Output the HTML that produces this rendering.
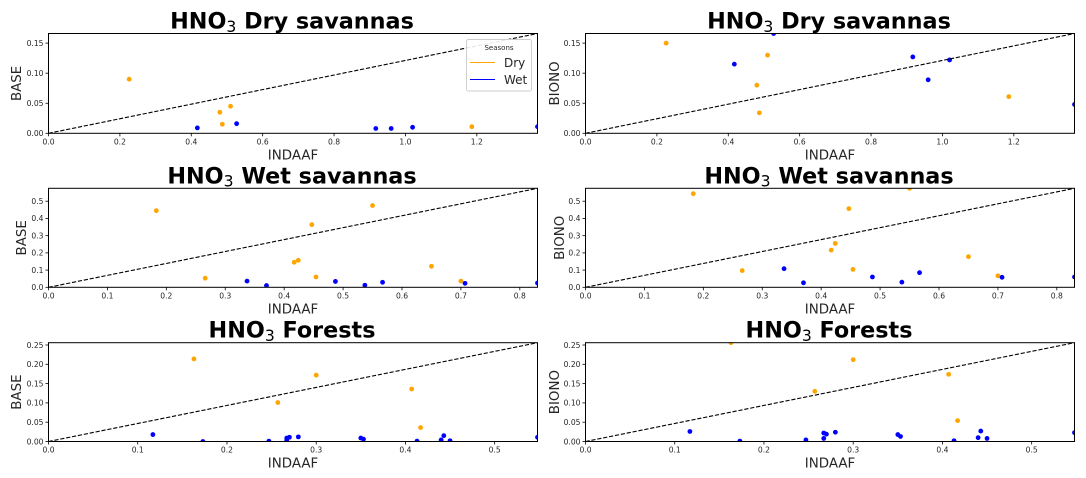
<!DOCTYPE html>
<html>
<head>
<meta charset="utf-8">
<style>
html,body{margin:0;padding:0;background:#fff;}
svg{display:block;font-family:"DejaVu Sans","Liberation Sans",sans-serif;}
</style>
</head>
<body>
<svg id="chart" xmlns="http://www.w3.org/2000/svg" width="1086" height="478" viewBox="0 0 1086 478"></svg>
<script>
// Dry savannas
const dsDryX = [0.226, 0.48, 0.487, 0.51, 1.186];
const dsWetX = [0.417, 0.527, 0.917, 0.96, 1.02, 1.37];
const dsDryBase = [0.09, 0.035, 0.015, 0.045, 0.011];
const dsWetBase = [0.009, 0.016, 0.008, 0.008, 0.01, 0.011];
const dsDryBiono = [0.15, 0.08, 0.034, 0.13, 0.061];
const dsWetBiono = [0.115, 0.166, 0.127, 0.089, 0.122, 0.048];
const dsXTicks = [0.0, 0.2, 0.4, 0.6, 0.8, 1.0, 1.2];
const dsYTicks = [0.00, 0.05, 0.10, 0.15];
// Wet savannas
const wsDryX = [0.183, 0.266, 0.417, 0.424, 0.447, 0.454, 0.55, 0.65, 0.70];
const wsWetX = [0.337, 0.37, 0.487, 0.537, 0.567, 0.707, 0.83];
const wsDryBase = [0.445, 0.053, 0.145, 0.157, 0.364, 0.06, 0.475, 0.122, 0.036];
const wsWetBase = [0.036, 0.01, 0.034, 0.012, 0.029, 0.023, 0.025];
const wsDryBiono = [0.544, 0.097, 0.216, 0.255, 0.457, 0.104, 0.575, 0.178, 0.067];
const wsWetBiono = [0.108, 0.026, 0.06, 0.03, 0.085, 0.058, 0.06];
const wsXTicks = [0.0, 0.1, 0.2, 0.3, 0.4, 0.5, 0.6, 0.7, 0.8];
const wsYTicks = [0.0, 0.1, 0.2, 0.3, 0.4, 0.5];
// Forests
const fDryX = [0.163, 0.257, 0.3, 0.407, 0.417];
const fWetX = [0.117, 0.173, 0.247, 0.267, 0.267, 0.27, 0.28, 0.35, 0.353, 0.413, 0.44, 0.443, 0.45, 0.548];
const fDryBase = [0.214, 0.101, 0.172, 0.136, 0.036];
const fWetBase = [0.018, 0.0, 0.001, 0.009, 0.003, 0.011, 0.012, 0.009, 0.006, 0.001, 0.004, 0.015, 0.002, 0.011];
const fDryBiono = [0.256, 0.13, 0.212, 0.174, 0.054];
const fWetBiono = [0.026, 0.001, 0.004, 0.022, 0.008, 0.019, 0.024, 0.018, 0.013, 0.002, 0.01, 0.027, 0.008, 0.023];
const fXTicks = [0.0, 0.1, 0.2, 0.3, 0.4, 0.5];
const fYTicks = [0.00, 0.05, 0.10, 0.15, 0.20, 0.25];
// Axis limits
const dsLimits = [1.37, 0.166];
const wsLimits = [0.83, 0.575];
const fLimits = [0.548, 0.256];

const NS = 'http://www.w3.org/2000/svg';
const root = document.getElementById('chart');
function mk(parent, tag, attrs, text) {
  const el = document.createElementNS(NS, tag);
  for (const k in attrs) el.setAttribute(k, attrs[k]);
  if (text !== undefined) el.textContent = text;
  parent.appendChild(el);
  return el;
}
const INK = '#262626';

function drawPanel(o) {
  const L = o.left, R = o.left + 489, T = o.top, B = o.bottom;
  const sx = v => L + (v / o.limits[0]) * (R - L);
  const sy = v => B - (v / o.limits[1]) * (B - T);
  const g = mk(root, 'g', {});
  
  

  const clip = mk(g, 'clipPath', {id: 'clip-' + o.id});
  mk(clip, 'rect', {x: L, y: T, width: R - L, height: B - T});

  // Title
  const cx = (L + R) / 2;
  const title = mk(g, 'text', {x: cx - 1, y: T - 5, 'text-anchor': 'middle', 'font-size': 22.3, 'font-weight': 'bold', fill: '#000'});
  
  
  mk(title, 'tspan', {}, 'HNO');
  mk(title, 'tspan', {dy: 3.4, 'font-size': 15.6, 'font-weight': 'normal'}, '3');
  mk(title, 'tspan', {dy: -3.4}, ' ' + o.name);

  // Axis titles
  const xTitle = mk(g, 'text', {x: cx, y: B + 26, 'text-anchor': 'middle', 'font-size': 13.4, fill: INK}, 'INDAAF');
  
  
  const yMid = (T + B) / 2;
  const yTitle = mk(g, 'text', {x: 0, y: 0, transform: 'translate(' + o.yTitleX + ' ' + yMid + ') rotate(-90)', 'text-anchor': 'middle', 'font-size': 13.4, fill: INK}, o.yLabel);
  
  

  // Points and 1:1 line
  const marks = mk(g, 'g', {'clip-path': 'url(#clip-' + o.id + ')'});
  
  
  o.dryX.forEach((v, i) => {
    const c = mk(marks, 'circle', {cx: sx(v), cy: sy(o.dryY[i]), r: 2.4, fill: '#ffa500'});
    
    
  });
  o.wetX.forEach((v, i) => {
    const c = mk(marks, 'circle', {cx: sx(v), cy: sy(o.wetY[i]), r: 2.4, fill: '#0000ff'});
    
    
  });
  const ref = mk(marks, 'line', {x1: sx(0), y1: sy(0), x2: sx(o.limits[0]), y2: sy(o.limits[1]), stroke: '#000', 'stroke-width': 1.1, 'stroke-dasharray': '4.2 1.8'});
  
  

  // Ticks
  o.xTicks.forEach(v => {
    const t = mk(g, 'line', {x1: sx(v), x2: sx(v), y1: B, y2: B + 3, stroke: '#000', 'stroke-width': 0.8});
    
    
    const l = mk(g, 'text', {x: sx(v), y: B + 11.2, 'text-anchor': 'middle', 'font-size': 7.6, fill: INK}, v.toFixed(1));
    
    
  });
  o.yTicks.forEach(v => {
    const t = mk(g, 'line', {x1: L - 3, x2: L, y1: sy(v), y2: sy(v), stroke: '#000', 'stroke-width': 0.8});
    
    
    const l = mk(g, 'text', {x: L - 5, y: sy(v) + 2.8, 'text-anchor': 'end', 'font-size': 7.6, fill: INK}, v.toFixed(o.yDigits));
    
    
  });

  // Frame
  const frame = mk(g, 'rect', {x: L, y: T, width: R - L, height: B - T, fill: 'none', stroke: '#000', 'stroke-width': 1});
  
  
}

const rows = [
  {name: 'Dry savannas', key: 'ds', top: 33.5, bottom: 133.3, limits: dsLimits, dryX: dsDryX, wetX: dsWetX, base: [dsDryBase, dsWetBase], biono: [dsDryBiono, dsWetBiono], xTicks: dsXTicks, yTicks: dsYTicks, yDigits: 2, titleX: 21},
  {name: 'Wet savannas', key: 'ws', top: 188.3, bottom: 287.3, limits: wsLimits, dryX: wsDryX, wetX: wsWetX, base: [wsDryBase, wsWetBase], biono: [wsDryBiono, wsWetBiono], xTicks: wsXTicks, yTicks: wsYTicks, yDigits: 1, titleX: 26},
  {name: 'Forests', key: 'f', top: 342.7, bottom: 441.5, limits: fLimits, dryX: fDryX, wetX: fWetX, base: [fDryBase, fWetBase], biono: [fDryBiono, fWetBiono], xTicks: fXTicks, yTicks: fYTicks, yDigits: 2, titleX: 21}
];
rows.forEach(r => {
  drawPanel({id: r.key + '-base', name: r.name, yLabel: 'BASE', left: 48.5, top: r.top, bottom: r.bottom, limits: r.limits, dryX: r.dryX, wetX: r.wetX, dryY: r.base[0], wetY: r.base[1], xTicks: r.xTicks, yTicks: r.yTicks, yDigits: r.yDigits, yTitleX: r.titleX});
  drawPanel({id: r.key + '-biono', name: r.name, yLabel: 'BIONO', left: 585.5, top: r.top, bottom: r.bottom, limits: r.limits, dryX: r.dryX, wetX: r.wetX, dryY: r.biono[0], wetY: r.biono[1], xTicks: r.xTicks, yTicks: r.yTicks, yDigits: r.yDigits, yTitleX: r.titleX + 538});
});

// Legend
const legend = mk(root, 'g', {});


mk(legend, 'rect', {x: 466.5, y: 39.5, width: 65, height: 51.5, rx: 2, fill: '#fff', 'fill-opacity': 0.9, stroke: '#ccc', 'stroke-width': 0.9});
const legendTitle = mk(legend, 'text', {x: 499, y: 50, 'text-anchor': 'middle', 'font-size': 7, fill: INK}, 'Seasons');


const dryLine = mk(legend, 'line', {x1: 470, x2: 495, y1: 62.5, y2: 62.5, stroke: '#ffa500', 'stroke-width': 1.1});


const dryText = mk(legend, 'text', {x: 504, y: 67, 'font-size': 12, fill: INK}, 'Dry');


const wetLine = mk(legend, 'line', {x1: 470, x2: 495, y1: 79.5, y2: 79.5, stroke: '#0000ff', 'stroke-width': 1.1});


const wetText = mk(legend, 'text', {x: 504, y: 84, 'font-size': 12, fill: INK}, 'Wet');


</script>
</body>
</html>
